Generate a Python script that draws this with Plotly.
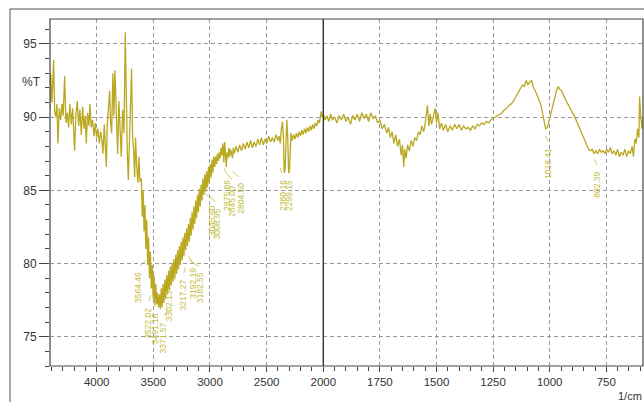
import numpy as np
import plotly.graph_objects as go

# ---------------- data ----------------
wavenumber = [
    4412, 4406, 4395, 4380, 4371, 4359, 4351, 4342, 4330, 4318, 4306, 4295, 4283, 4271, 4259, 4248,
    4236, 4224, 4212, 4201, 4195, 4183, 4171, 4159, 4148, 4136, 4124, 4112, 4101, 4092, 4080, 4068,
    4059, 4048, 4036, 4024, 4012, 4001, 3989, 3977, 3965, 3954, 3945, 3933, 3924, 3915, 3907, 3898,
    3886, 3877, 3868, 3857, 3848, 3839, 3827, 3815, 3804, 3792, 3783, 3771, 3759, 3748, 3739, 3730,
    3721, 3709, 3701, 3692, 3683, 3674, 3665, 3657, 3648, 3636, 3627, 3618,
    3606, 3598, 3590, 3582, 3574, 3566, 3558, 3550, 3542, 3534, 3526, 3518, 3510, 3502, 3494, 3486,
    3478, 3470, 3462, 3454, 3446, 3438, 3430, 3422, 3414, 3406, 3398, 3390, 3382, 3374, 3366, 3358,
    3350, 3342, 3334, 3326, 3318, 3310, 3302, 3294, 3286, 3278, 3270, 3262, 3254, 3246, 3238, 3230,
    3222, 3214, 3206, 3198, 3190, 3182, 3174, 3166, 3158, 3150, 3142, 3134, 3126, 3118, 3110, 3102,
    3094, 3086, 3078, 3070, 3062, 3054, 3046, 3038, 3030, 3022, 3014, 3006, 2998, 2990, 2982, 2974,
    2966, 2958, 2950, 2942, 2934, 2926, 2918, 2910, 2902, 2894, 2886, 2878, 2870, 2862, 2856, 2850,
    2842, 2834, 2826, 2818, 2810, 2802, 2794, 2786, 2770, 2754, 2738, 2722, 2706, 2690, 2674, 2658,
    2642, 2626, 2610, 2594, 2578, 2562, 2546, 2530, 2514, 2498, 2482, 2466, 2450, 2434, 2418, 2402,
    2390, 2380, 2370, 2360, 2352, 2345, 2338, 2330, 2322, 2314, 2306, 2299, 2292, 2285, 2275, 2262,
    2250, 2238, 2226, 2214, 2202, 2190, 2178, 2166, 2154, 2142, 2130, 2118, 2106, 2094, 2082, 2070,
    2058, 2046, 2034, 2026, 2018, 2010, 2000,
    1992, 1984, 1976, 1968, 1960, 1950, 1940, 1930, 1920, 1910, 1900, 1890, 1880, 1870, 1860, 1850,
    1840, 1830, 1820, 1810, 1800, 1790, 1780, 1770, 1760, 1750, 1740, 1730, 1720, 1712, 1704, 1696,
    1688, 1680, 1672, 1664, 1656, 1650, 1645, 1640, 1634, 1628, 1620, 1612, 1604, 1596, 1588, 1580,
    1572, 1564, 1556, 1548, 1540, 1534, 1528, 1522, 1514, 1506, 1500, 1494, 1486, 1478, 1470, 1460,
    1450, 1440, 1430, 1420, 1410, 1400, 1390, 1380, 1370, 1360, 1350, 1340, 1330, 1320, 1310, 1300,
    1290, 1280, 1270, 1260, 1250, 1240, 1230, 1220, 1210, 1200, 1190, 1180, 1170, 1160, 1150, 1140,
    1130, 1120, 1112, 1104, 1096, 1088, 1080, 1072, 1064, 1056, 1048, 1040, 1032, 1024, 1018, 1010,
    1002, 994, 986, 978, 970, 963, 956, 948, 940, 932, 924, 916, 908, 900, 892, 884,
    876, 868, 860, 852, 844, 836, 828, 820, 812, 804, 796, 788, 780, 772, 764, 756,
    748, 740, 732, 724, 716, 708, 700, 692, 684, 676, 668, 660, 652, 644, 636, 630,
    624, 618, 612, 606, 603, 598, 592, 588,
]
transmittance = [
    90.5, 93.0, 91.0, 93.9, 90.4, 90.0, 90.9, 88.2, 90.6, 89.8, 90.9, 90.1, 92.8, 89.6, 90.3, 89.3,
    90.9, 89.5, 90.6, 89.0, 87.7, 90.2, 91.1, 89.4, 90.5, 88.8, 90.7, 89.2, 90.1, 88.2, 90.3, 89.4,
    90.9, 89.3, 89.8, 88.7, 89.6, 88.6, 89.2, 88.2, 89.0, 88.4, 87.5, 89.5, 88.0, 86.6, 89.4, 90.5,
    91.8, 89.6, 88.9, 93.0, 90.1, 93.2, 89.5, 87.5, 91.1, 88.8, 87.3, 90.5, 88.9, 95.8, 89.5, 87.7,
    85.7, 89.5, 90.8, 93.3, 88.6, 87.7, 85.9, 88.6, 86.8, 85.5, 87.3, 85.6,
    85.8, 83.2, 85.0, 82.2, 84.0, 81.0, 83.0, 79.9, 81.8, 79.0, 80.8, 78.3, 79.9, 77.6, 79.2, 77.2,
    78.6, 77.2, 78.0, 77.0, 77.9, 76.9, 78.3, 77.0, 78.6, 77.3, 78.9, 77.6, 79.2, 77.9, 79.5, 78.2,
    79.8, 78.5, 80.0, 78.8, 80.3, 79.0, 80.6, 79.3, 80.9, 79.6, 81.2, 79.9, 81.5, 80.2, 81.8, 80.5,
    82.1, 80.9, 82.4, 81.2, 82.7, 81.5, 83.1, 81.9, 83.5, 82.3, 83.9, 82.7, 84.3, 83.1, 84.7, 83.5,
    85.1, 83.9, 85.4, 84.3, 85.8, 84.7, 86.1, 84.9, 86.3, 85.2, 86.6, 85.5, 86.8, 85.9, 87.1, 86.2,
    87.3, 86.6, 87.3, 86.8, 87.5, 87.0, 87.6, 87.2, 87.9, 87.4, 88.2, 86.9, 88.3, 87.4, 86.6, 87.6,
    87.2, 87.9, 87.3, 87.8, 87.4, 87.2, 87.9, 87.5, 88.0, 87.6, 88.1, 87.7, 88.2, 87.8, 88.3, 87.9,
    88.4, 87.9, 88.3, 88.0, 88.5, 88.1, 88.6, 88.1, 88.5, 88.2, 88.7, 88.3, 88.6, 88.3, 88.8, 88.4,
    88.7, 88.2, 89.2, 89.7, 88.5, 86.2, 86.4, 89.3, 89.8, 88.6, 86.2, 86.3, 88.3, 88.9, 88.4, 88.8,
    88.5, 88.9, 88.6, 89.0, 88.7, 89.1, 88.8, 89.2, 88.9, 89.3, 89.0, 89.4, 89.1, 89.5, 89.2, 89.6,
    89.4, 89.8, 89.6, 90.1, 90.4, 90.0, 90.2,
    89.8, 90.1, 89.7, 90.2, 89.8, 90.0, 89.6, 90.1, 89.8, 90.2, 89.7, 90.0, 89.5, 90.1, 89.8, 90.2,
    89.7, 90.3, 89.9, 90.2, 89.7, 90.3, 89.9, 90.1, 89.6, 89.8, 89.2, 89.5, 88.9, 89.3, 88.6, 89.0,
    88.2, 88.8, 88.0, 88.5, 87.4, 88.1, 86.6, 87.8, 87.2, 88.1, 87.7, 88.4, 88.0, 88.6, 88.4, 89.0,
    88.8, 89.4, 89.0, 89.8, 90.8, 89.4, 90.2, 89.5, 90.1, 90.6, 89.6, 90.3, 89.2, 89.6, 89.1, 89.5,
    89.0, 89.4, 89.1, 89.5, 89.2, 89.5, 89.1, 89.4, 89.2, 89.3, 89.1, 89.4, 89.2, 89.5, 89.4, 89.6,
    89.5, 89.7, 89.6, 89.8, 89.9, 90.0, 90.1, 90.2, 90.3, 90.5, 90.6, 90.8, 90.9, 91.1, 91.4, 91.6,
    91.9, 92.2, 92.1, 92.5, 92.2, 92.4, 92.5, 92.0, 91.8, 91.5, 91.3, 90.9, 90.3, 89.6, 89.2, 89.3,
    89.8, 90.4, 91.0, 91.4, 91.8, 92.1, 91.9, 91.8, 91.5, 91.3, 91.0, 90.8, 90.5, 90.3, 90.1, 89.8,
    89.6, 89.3, 88.9, 88.6, 88.3, 88.0, 87.8, 87.7, 87.8, 87.5, 87.7, 87.5, 87.8, 87.6, 87.7, 87.5,
    87.8, 87.6, 87.9, 87.5, 87.7, 87.4, 87.8, 87.3, 87.6, 87.4, 87.8, 87.3, 87.7, 87.5, 88.0, 87.3,
    88.5, 88.2, 89.2, 88.6, 91.4, 90.0, 89.2, 90.0,
]

peak_labels = ["3564.46", "3522.02", "3491.16", "3371.57", "3302.13", "3217.27", "3192.19",
               "3182.55", "3045.60", "3008.95", "2875.86", "2845.00", "2804.50", "2380.16",
               "2299.15", "1018.41", "802.39"]

y_ticks = [75, 80, 85, 90, 95]
x_ticks_left = [4000, 3500, 3000, 2500, 2000]
x_ticks_right = [1750, 1500, 1250, 1000, 750]

# ---------------- layout constants ----------------
W, H = 644, 402
L, R, T, B = 50, 1, 19, 36
plot_w = W - L - R
plot_h = H - T - B
split_px = 323.3
split = (split_px - L) / plot_w
x_left_range = [4412, 2000]
x_right_range = [2000, 588]
y_range = [73.0, 96.7]

line_col = "#b9a820"
label_col = "#c4bd3c"
axis_col = "#444444"
grid_col = "#9a9a9a"
grid_dash = "4px,3px"
font_fam = "Liberation Sans, Arial, sans-serif"


def px_x(px):
    return (px - L) / plot_w


def px_y(py):
    return 1 - (py - T) / plot_h


wn = np.array(wavenumber, dtype=float)
tr = np.array(transmittance, dtype=float)
left = wn >= 2000
right = wn <= 2000

fig = go.Figure()
fig.add_trace(go.Scatter(x=wn[left], y=tr[left], mode="lines", xaxis="x", yaxis="y",
                         line=dict(color=line_col, width=1.3), hoverinfo="skip", showlegend=False))
fig.add_trace(go.Scatter(x=wn[right], y=tr[right], mode="lines", xaxis="x2", yaxis="y",
                         line=dict(color=line_col, width=1.3), hoverinfo="skip", showlegend=False))

common_x = dict(showgrid=True, gridcolor=grid_col, griddash=grid_dash, gridwidth=1,
                ticks="outside", ticklen=5, tickcolor=axis_col, tickwidth=1,
                showline=False, zeroline=False, automargin=False,
                tickfont=dict(family=font_fam, size=11.5, color="#333333"))

fig.update_layout(
    template="none",
    autosize=False,
    width=W, height=H,
    margin=dict(l=L, r=R, t=T, b=B, pad=0),
    paper_bgcolor="white", plot_bgcolor="white",
    xaxis=dict(domain=[0, split], range=x_left_range, anchor="y",
               tickmode="array", tickvals=x_ticks_left,
               minor=dict(tickmode="linear", tick0=0, dtick=100, ticks="outside",
                          ticklen=4, tickcolor=axis_col, showgrid=False),
               **common_x),
    xaxis2=dict(domain=[split, 1], range=x_right_range, anchor="y",
                tickmode="array", tickvals=x_ticks_right,
                minor=dict(tickmode="linear", tick0=0, dtick=50, ticks="outside",
                           ticklen=4, tickcolor=axis_col, showgrid=False),
                **common_x),
    yaxis=dict(range=y_range, anchor="x", tickmode="array", tickvals=y_ticks,
               showgrid=True, gridcolor=grid_col, griddash=grid_dash, gridwidth=1,
               ticks="outside", ticklen=10, tickcolor=axis_col, zeroline=False,
               automargin=False, showline=False,
               minor=dict(tickmode="linear", tick0=0, dtick=1, ticks="outside",
                          ticklen=4, tickcolor=axis_col, showgrid=False),
               tickfont=dict(family=font_fam, size=12, color="#333333")),
    showlegend=False,
)

# frames
fig.add_shape(type="rect", xref="paper", yref="paper",
              x0=px_x(10), x1=px_x(W + 5), y0=px_y(H + 5), y1=px_y(9),
              line=dict(color="#555555", width=1), layer="below")
fig.add_shape(type="rect", xref="paper", yref="paper", x0=0, x1=1, y0=0, y1=1,
              line=dict(color=axis_col, width=1.2))
fig.add_shape(type="line", xref="paper", yref="paper", x0=split, x1=split, y0=0, y1=1,
              line=dict(color="#333333", width=1.4))

# peak labels: (pixel shift of the text from its peak, label top in %T)
label_layout = {
    "3564.46": (-8, 79.6), "3522.02": (-3, 77.2), "3491.16": (1, 76.8), "3371.57": (-5, 76.2),
    "3302.13": (-6, 78.4), "3217.27": (-2, 79.1), "3192.19": (5, 79.9), "3182.55": (11, 79.6),
    "3045.60": (7, 84.2), "3008.95": (8, 84.0), "2875.86": (3, 85.9), "2845.00": (5, 85.5),
    "2804.50": (8, 85.7), "2380.16": (2, 85.9), "2299.15": (-1, 85.9), "1018.41": (3, 88.1),
    "802.39": (3, 86.5),
}
for lab in peak_labels:
    v = float(lab)
    dx, ytop = label_layout[lab]
    xr = "x" if v >= 2000 else "x2"
    fig.add_annotation(x=v, y=ytop, xref=xr, yref="y",
                       text=lab, showarrow=False, textangle=-90, xshift=dx, yshift=-1,
                       xanchor="center", yanchor="top",
                       font=dict(family=font_fam, size=8.5, color=label_col))
    # leader line from the label top toward the peak
    fig.add_annotation(x=v, y=ytop, xref=xr, yref="y", text="", showarrow=True,
                       arrowhead=0, arrowwidth=0.8, arrowcolor=label_col,
                       yshift=9, ax=dx, ay=7, standoff=0, startstandoff=0)

fig.add_annotation(xref="paper", yref="paper", x=px_x(31), y=px_y(82), text="%T",
                   xanchor="center", yanchor="middle",
                   showarrow=False, font=dict(family=font_fam, size=12, color="#333333"))
fig.add_annotation(xref="paper", yref="paper", x=px_x(630), y=px_y(396), text="1/cm",
                   xanchor="center", yanchor="middle",
                   showarrow=False, font=dict(family=font_fam, size=11, color="#333333"))

post = ("document.documentElement.style.overflow='hidden';"
        "document.body.style.margin='0';document.body.style.overflow='hidden';"
        "var gd=document.getElementById('{plot_id}');"
        "Plotly.relayout(gd,{width:644,height:402});")
fig.write_html("out.html", config={"responsive": False, "displayModeBar": False},
               post_script=post)
